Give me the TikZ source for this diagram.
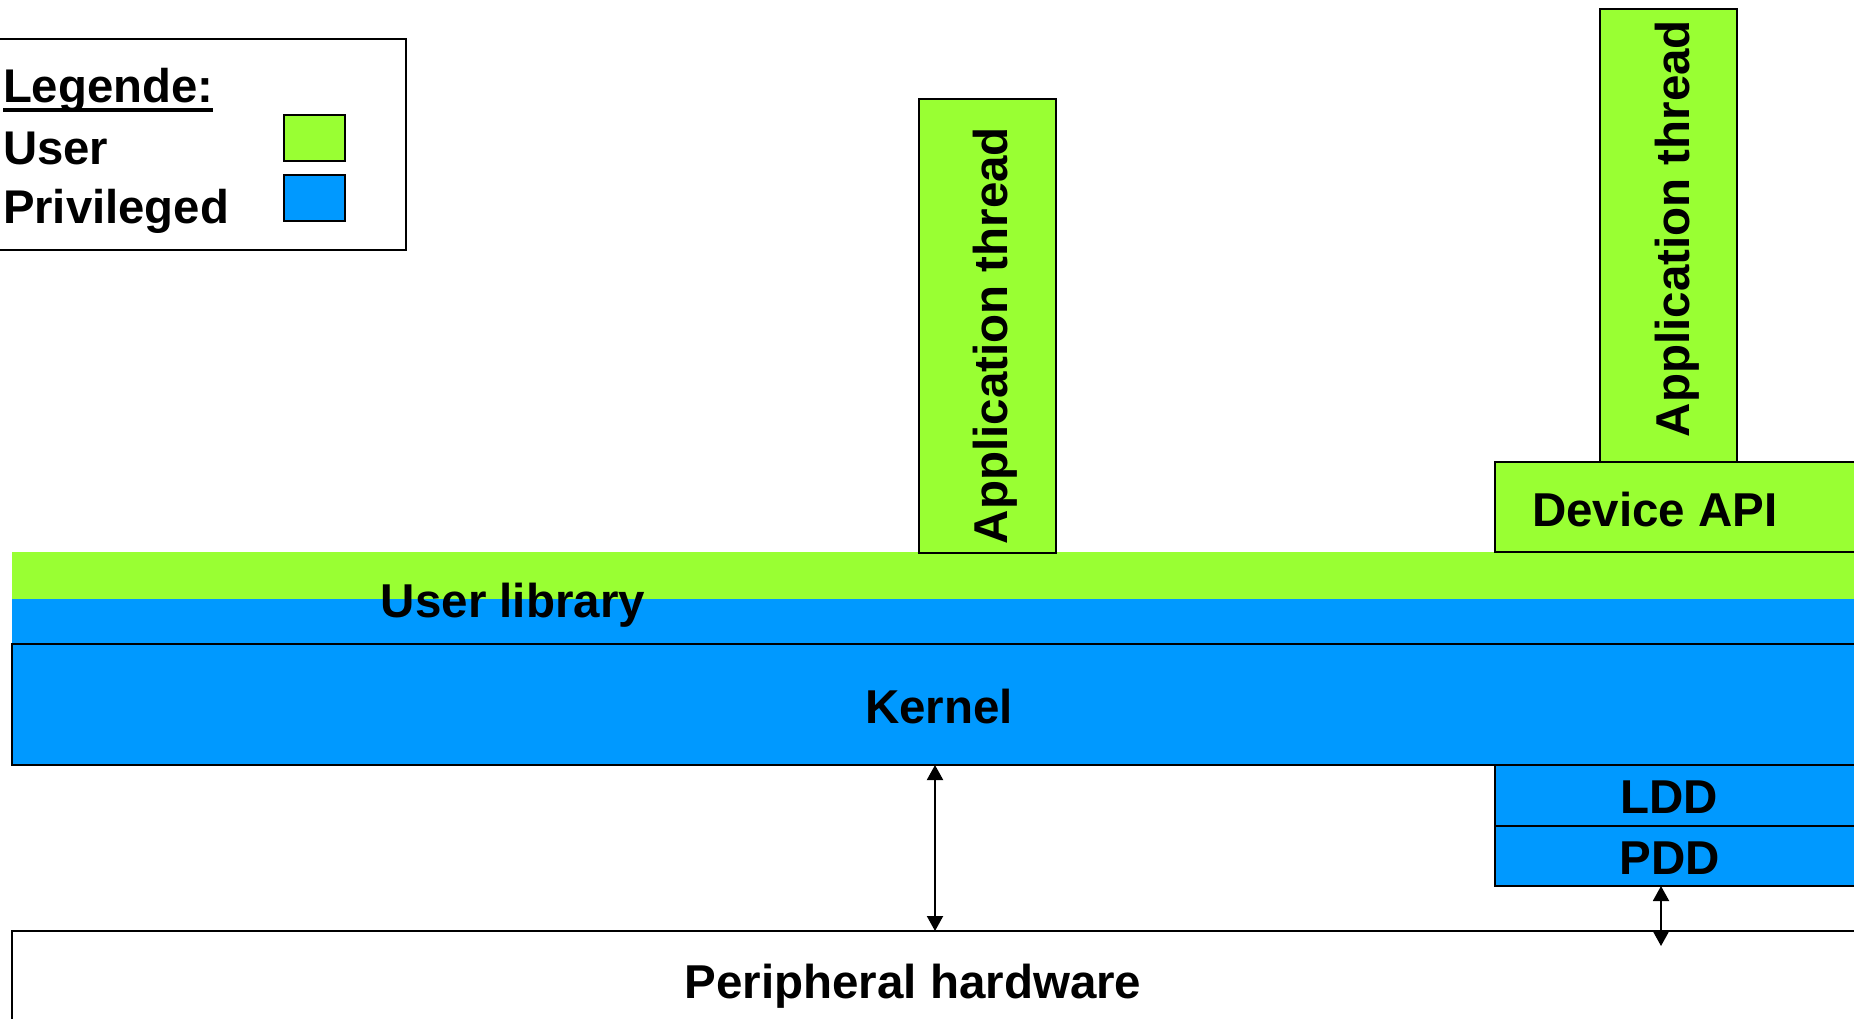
\documentclass[tikz,border=0pt]{standalone}
\usepackage{fontspec}
\setmainfont{Liberation Sans}
\usetikzlibrary{arrows.meta}
\definecolor{usergreen}{RGB}{153,255,51}
\definecolor{privblue}{RGB}{0,153,255}
\begin{document}
\begin{tikzpicture}[x=1pt,y=-1pt,
  box/.style={draw=black, line width=2.5pt, inner sep=0pt, outer sep=0pt, anchor=north west},
  band/.style={inner sep=0pt, outer sep=0pt, anchor=north west},
  lbl/.style={font=\bfseries\fontsize{47.5}{57}\selectfont, inner sep=0pt, outer sep=0pt, anchor=base},
  lgd/.style={font=\bfseries\fontsize{47.3}{57}\selectfont, inner sep=0pt, outer sep=0pt, anchor=base west},
  biarrow/.style={line width=2pt, {Triangle[width=16pt,length=15pt]}-{Triangle[width=16pt,length=15pt]}}
]
\clip (0,0) rectangle (1854,1018);
\fill[white] (0,0) rectangle (1854,1018);

% layers
\node[band, fill=usergreen, minimum width=1860pt, minimum height=47pt] (ulgreen) at (12,552) {};
\node[band, fill=privblue, minimum width=1860pt, minimum height=45pt] (ulblue) at (12,599) {};
\node[box, fill=privblue, minimum width=1854pt, minimum height=121pt] (kernel) at (12,644) {};
\node[box, line width=2pt, fill=white, minimum width=1860pt, minimum height=100pt] (periph) at (12,931) {};
\node[box, fill=privblue, minimum width=400pt, minimum height=61pt] (ldd) at (1495,765) {};
\node[box, fill=privblue, minimum width=400pt, minimum height=60pt] (pdd) at (1495,826) {};
\node[box, fill=usergreen, minimum width=137pt, minimum height=454pt] (app1) at (919,99) {};
\node[box, fill=usergreen, minimum width=137pt, minimum height=453pt] (app2) at (1600,9) {};
\node[box, fill=usergreen, minimum width=400pt, minimum height=90pt] (devapi) at (1495,462) {};

% texts
\node[lbl] (tul) at (513,617) {User library};
\node[lbl] (tkern) at (939,723) {Kernel};
\node[lbl] (tper) at (913,998) {Peripheral hardware};
\node[lbl, anchor=base west] (tdev) at (1532,526) {Device API};
\node[lbl] (tldd) at (1669,813) {LDD};
\node[lbl] (tpdd) at (1670,874) {PDD};
\node[lbl, rotate=90, anchor=base west] (tapp1) at (1007,544) {Application thread};
\node[lbl, rotate=90, anchor=base west] (tapp2) at (1689,437) {Application thread};

% arrows
\coordinate (p2) at (1661,946);
\draw[biarrow] (935,0 |- kernel.south) -- (935,0 |- periph.north);
\draw[biarrow] (1661,0 |- pdd.south) -- (p2);

% legend
\node[box, line width=2pt, fill=white, minimum width=411pt, minimum height=211pt] (legend) at (-5,39) {};
\node[lgd] (lgtitle) at (3,102) {Legende:};
\draw[line width=4pt] ([yshift=-8pt]lgtitle.base west) -- ([yshift=-8pt]lgtitle.base east);
\node[lgd] (lguser) at (3,164) {User};
\node[lgd] (lgpriv) at (3,223) {Privileged};
\node[box, line width=2pt, fill=usergreen, minimum width=61pt, minimum height=46pt] (swu) at (284,115) {};
\node[box, line width=2pt, fill=privblue, minimum width=61pt, minimum height=46pt] (swp) at (284,175) {};
\end{tikzpicture}
\end{document}
